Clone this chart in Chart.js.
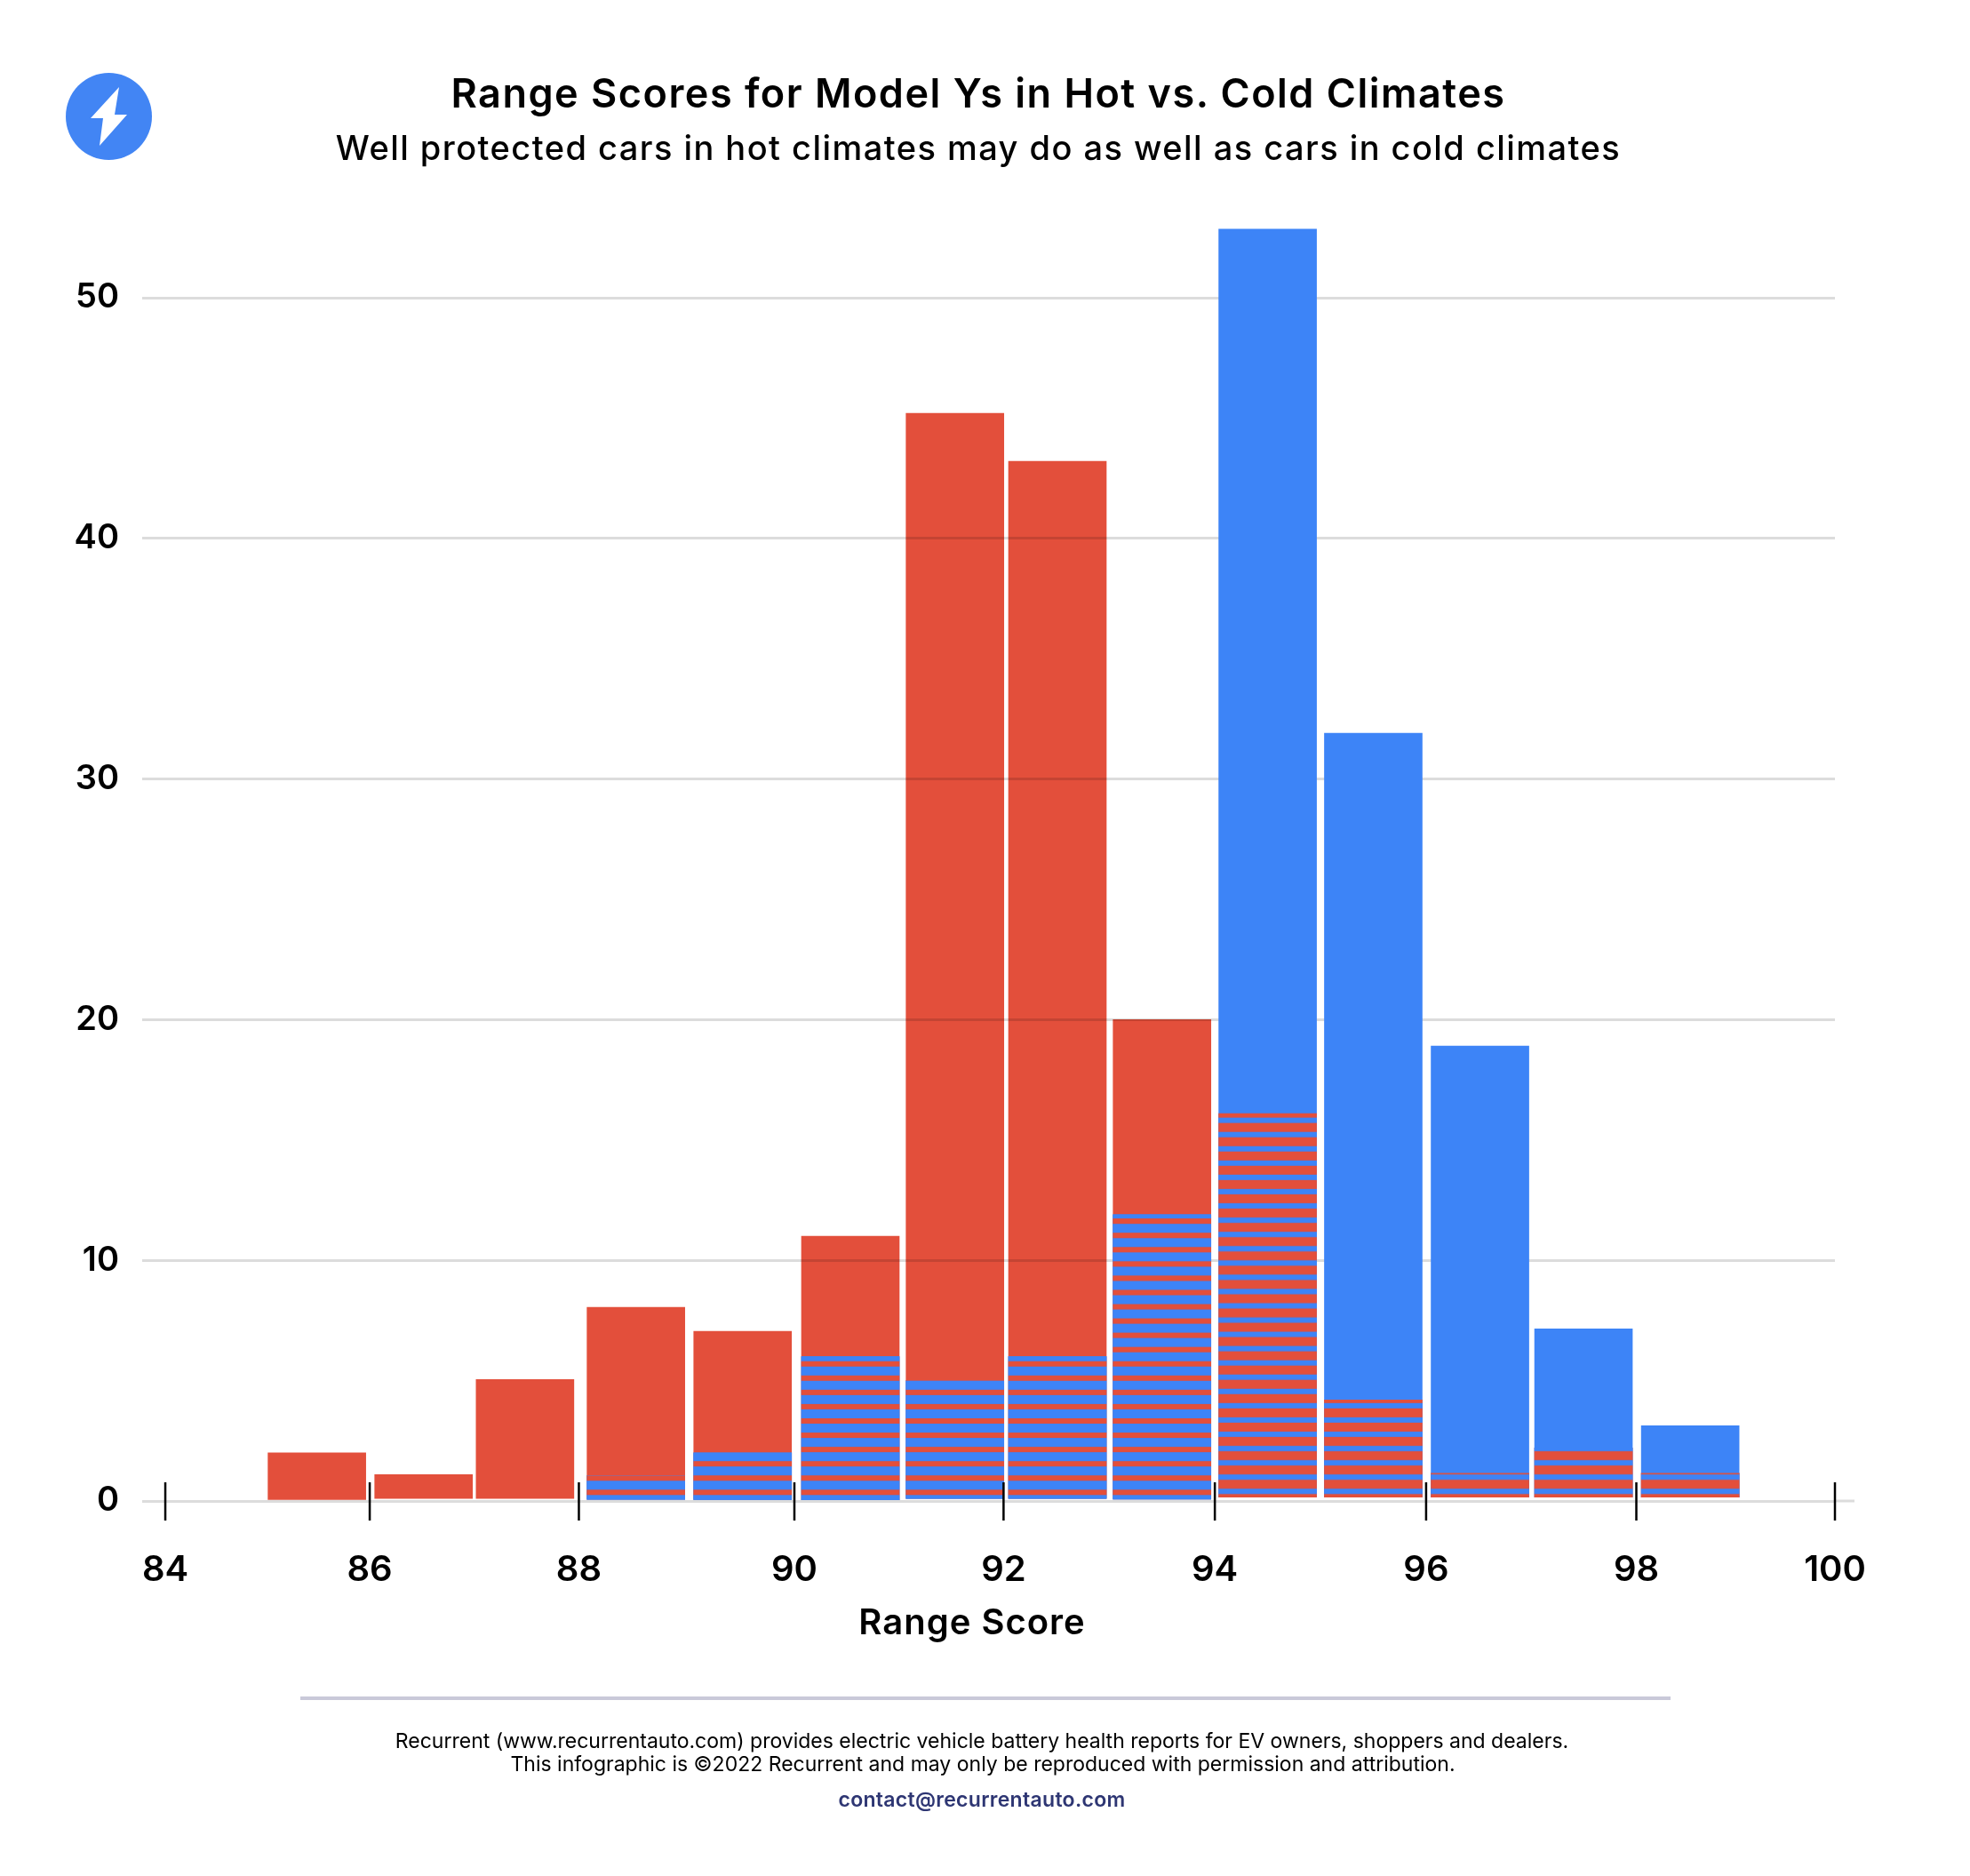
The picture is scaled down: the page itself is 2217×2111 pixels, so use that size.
<!DOCTYPE html>
<html>
<head>
<meta charset="utf-8">
<title>Range Scores for Model Ys in Hot vs. Cold Climates</title>
<script src="https://cdn.jsdelivr.net/npm/chart.js@4"></script>
<style>
  html, body { margin: 0; padding: 0; background: #fff; }
  #page { position: relative; width: 2217px; height: 2111px; overflow: hidden; font-family: Inter, sans-serif; color: #000; }
  #chart { position: absolute; left: 0; top: 0; }
  .line { position: absolute; white-space: nowrap; transform: translate(-50%, -50%); }
  #main-title { left: 1101px; top: 104px; font-size: 45px; font-weight: 600; letter-spacing: 1.5px; }
  #sub-title { left: 1101px; top: 166px; font-size: 38px; font-weight: 500; letter-spacing: 1.45px; }
  #axis-title { left: 1094px; top: 1824px; font-size: 40px; font-weight: 600; letter-spacing: 1px; }
  #foot-1 { left: 1105px; top: 1959px; font-size: 23px; }
  #foot-2 { left: 1106px; top: 1985px; font-size: 23px; }
  #foot-3 { left: 1105px; top: 2025px; font-size: 23px; font-weight: 600; color: #2e3673; letter-spacing: 0.3px; }
  #rule { position: absolute; left: 338px; top: 1909px; width: 1542px; height: 4px; background: #c9c9d9; }
  #logo { position: absolute; left: 74px; top: 82px; }
</style>
</head>
<body>
<div id="page">
  <canvas id="chart" width="2217" height="2111"></canvas>
  <svg id="logo" width="97" height="98" viewBox="74 82 97 98">
    <ellipse cx="122.5" cy="131" rx="48.5" ry="49" fill="#4285f4"></ellipse>
    <polygon points="134,98 102,133 116,133 112,164 143,129 129,129" fill="#fff"></polygon>
  </svg>
  <div class="line" id="main-title">Range Scores for Model Ys in Hot vs. Cold Climates</div>
  <div class="line" id="sub-title">Well protected cars in hot climates may do as well as cars in cold climates</div>
  <div class="line" id="axis-title">Range Score</div>
  <div id="rule"></div>
  <div class="line" id="foot-1">Recurrent (www.recurrentauto.com) provides electric vehicle battery health reports for EV owners, shoppers and dealers.</div>
  <div class="line" id="foot-2">This infographic is ©2022 Recurrent and may only be reproduced with permission and attribution.</div>
  <div class="line" id="foot-3">contact@recurrentauto.com</div>
</div>
<script>
// values
var binMids = [85.5, 86.51, 87.47, 88.52, 89.53, 90.55, 91.54, 92.51, 93.5, 94.5, 95.5, 96.51, 97.49, 98.5];
var hotCars = [2, 1.1, 5.05, 8.05, 7.05, 11, 45.2, 43.2, 20, 16.1, 4.2, 1.15, 2.2, 1.15];
var coldCars = [0, 0, 0, 1.05, 2, 6, 5, 6, 11.9, 52.85, 31.9, 18.9, 7.15, 3.13];
var barFloors = [0, 0.1, 0.1, 0.07, 0, 0.05, 0.1, 0.1, 0.08, 0.16, 0.16, 0.16, 0.16, 0.16];
var tickValues = [84.065, 86, 87.98, 90.02, 92, 94, 96, 97.99, 99.87];
var tickLabels = ['84', '86', '88', '90', '92', '94', '96', '98', '100'];

var RED = '#e34f3b';
var BLUE = '#3d84f7';

// the overlap of the two series is shown as horizontal stripes
function stripes(main, other, start) {
    var cell = document.createElement('canvas');
    cell.width = 4;
    cell.height = 16;
    var c = cell.getContext('2d');
    c.fillStyle = other;
    c.fillRect(0, 0, 4, 16);
    c.fillStyle = main;
    c.fillRect(0, start, 4, 10);
    c.fillRect(0, start - 16, 4, 10);
    var pattern = document.getElementById('chart').getContext('2d').createPattern(cell, 'repeat');
    pattern.setTransform(new DOMMatrix().scale(1, 1.00375));
    return pattern;
}
var blueStripes = stripes(BLUE, RED, 11.96);
var redStripes = stripes(RED, BLUE, 10.86);

function bars(values) {
    return values.map(function(v, i) {
        return { x: binMids[i], y: v > 0 ? [barFloors[i], v] : null };
    });
}

var overlap = hotCars.map(function(v, i) {
    return Math.min(v, coldCars[i]);
});

// red is multiplied so the grid lines stay visible through it, long ticks sit across the base line
var axisMarks = {
    id: 'axisMarks',
    beforeDatasetDraw: function(chart, args) {
        if (args.meta.label === 'Hot') chart.ctx.globalCompositeOperation = 'multiply';
    },
    afterDatasetDraw: function(chart) {
        chart.ctx.globalCompositeOperation = 'source-over';
    },
    afterDatasetsDraw: function(chart) {
        var ctx = chart.ctx;
        var x = chart.scales.x;
        var zero = chart.scales.y.getPixelForValue(0);
        ctx.save();
        ctx.strokeStyle = '#dcdcdc';
        ctx.lineWidth = 3;
        ctx.beginPath();
        ctx.moveTo(x.right, zero);
        ctx.lineTo(x.right + 22, zero);
        ctx.stroke();
        ctx.strokeStyle = '#000';
        ctx.lineWidth = 2.5;
        x.ticks.forEach(function(t) {
            var px = x.getPixelForValue(t.value);
            ctx.beginPath();
            ctx.moveTo(px, zero - 21);
            ctx.lineTo(px, zero + 22);
            ctx.stroke();
        });
        ctx.restore();
    }
};

new Chart(document.getElementById('chart'), {
    type: 'bar',
    data: {
        datasets: [
            { label: 'Overlap', data: bars(overlap), order: 0, backgroundColor: function(c) {
                return hotCars[c.dataIndex] > coldCars[c.dataIndex] ? blueStripes : redStripes;
            } },
            { label: 'Cold', data: bars(coldCars), order: 1, backgroundColor: BLUE },
            { label: 'Hot', data: bars(hotCars), order: 2, backgroundColor: RED }
        ]
    },
    plugins: [axisMarks],
    options: {
        responsive: false,
        devicePixelRatio: 1,
        animation: false,
        events: [],
        grouped: false,
        barThickness: 110,
        layout: { padding: { left: 0, top: 226.7, right: 152, bottom: 323 } },
        plugins: {
            legend: { display: false },
            title: { display: false },
            tooltip: { enabled: false }
        },
        scales: {
            x: {
                type: 'linear',
                offset: false,
                min: 83.846,
                max: 99.87,
                border: { display: false },
                grid: { display: false },
                afterBuildTicks: function(axis) {
                    axis.ticks = tickValues.map(function(v) {
                        return { value: v };
                    });
                },
                afterFit: function(axis) {
                    axis.height = 99;
                },
                ticks: {
                    autoSkip: false,
                    maxRotation: 0,
                    padding: 46,
                    color: '#000',
                    font: { family: 'Inter', size: 40, weight: '600' },
                    callback: function(value, index) {
                        return tickLabels[index];
                    }
                }
            },
            y: {
                min: 0,
                max: 54,
                border: { display: false },
                grid: { color: '#dcdcdc', lineWidth: 3, drawTicks: false },
                afterFit: function(axis) {
                    axis.width = 160;
                },
                ticks: {
                    stepSize: 10,
                    includeBounds: false,
                    padding: 26,
                    color: '#000',
                    font: { family: 'Inter', size: 38, weight: '600' }
                }
            }
        }
    }
});
</script>
</body>
</html>
